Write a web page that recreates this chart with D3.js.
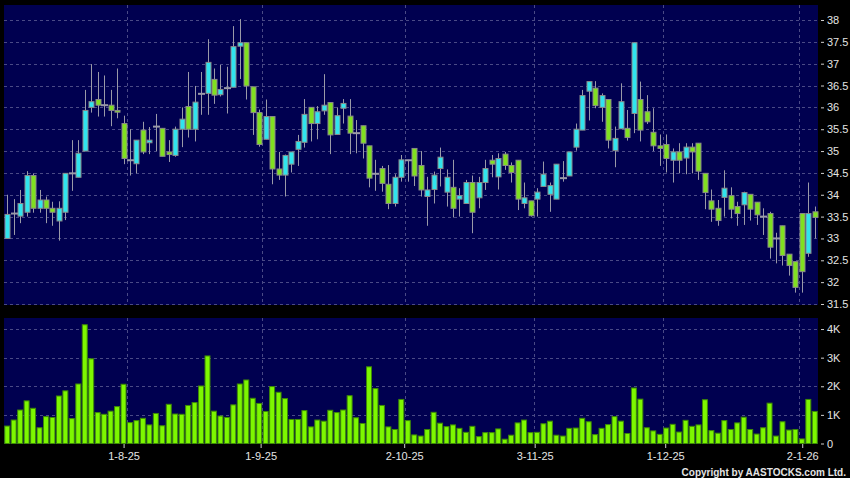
<!DOCTYPE html>
<html><head><meta charset="utf-8">
<script src="https://cdn.jsdelivr.net/npm/d3@7"></script>
<style>html,body{margin:0;padding:0;background:#000;} svg{display:block}</style>
</head><body><svg id="c" width="850" height="478"></svg>
<script>
// ---- data ----
const opens = [33.00,33.57,33.51,33.60,34.44,33.69,33.88,33.69,33.40,33.60,
34.49,34.40,35.00,36.00,36.18,36.05,36.05,35.93,35.63,34.79,
34.71,35.48,35.19,35.56,35.52,34.98,34.90,35.50,36.02,35.50,
36.31,36.32,36.64,36.29,36.44,36.46,37.40,37.48,36.47,35.88,
35.27,35.79,34.59,34.45,34.70,35.04,35.20,36.00,35.63,35.92,
36.11,35.38,35.98,35.80,35.41,35.58,35.12,34.48,34.60,34.24,
33.80,34.40,34.79,35.06,34.67,33.96,34.12,34.60,34.06,34.17,
33.90,33.80,34.28,33.93,34.28,34.79,34.41,34.93,34.67,34.79,
33.80,33.86,33.90,34.19,34.01,33.90,34.38,34.43,35.09,35.48,
36.37,36.44,36.00,36.18,35.01,35.51,35.52,35.86,36.18,35.90,
35.43,35.12,35.15,34.79,34.98,34.84,35.09,35.18,34.49,33.86,
33.69,33.94,33.98,33.73,33.77,34.01,33.83,33.50,33.57,33.00,
33.29,32.64,32.47,33.57,32.66,33.61];
const highs = [34.00,33.90,34.11,34.54,34.49,34.11,33.96,33.84,33.85,34.49,
35.25,35.25,36.40,36.99,36.81,36.73,36.40,36.89,35.81,35.50,
35.25,35.67,35.55,35.85,35.52,35.25,35.56,36.00,36.81,36.49,
36.81,37.56,36.89,36.97,36.93,37.86,38.02,37.48,36.47,35.95,
36.18,35.79,34.98,34.92,34.98,35.37,36.19,36.00,36.03,36.76,
36.11,36.00,36.19,36.19,35.71,35.58,35.12,34.80,34.66,34.68,
34.47,34.91,34.80,35.06,35.00,34.41,34.53,35.08,34.58,34.80,
34.15,34.34,34.44,34.41,34.80,34.91,34.95,34.98,34.74,34.79,
34.28,33.86,34.15,34.76,34.28,34.70,34.77,34.98,35.63,36.40,
36.59,36.60,36.32,36.18,35.56,36.55,35.94,37.48,36.59,36.28,
35.98,35.38,35.38,35.06,35.18,35.18,35.18,35.18,34.49,34.12,
33.88,34.56,34.17,33.84,34.07,34.01,33.83,33.69,33.61,33.13,
33.29,32.64,32.47,33.57,34.28,33.73];
const lows = [33.00,33.08,33.35,33.50,33.59,33.59,33.35,33.29,32.95,33.42,
34.09,34.40,35.00,35.88,35.79,35.79,35.57,35.75,34.70,34.44,
34.49,34.93,34.93,35.00,34.88,34.75,34.87,35.09,35.31,35.22,
35.83,35.83,36.08,36.25,35.86,36.46,36.65,36.18,35.37,35.10,
35.27,34.24,34.34,33.96,34.51,34.66,35.08,35.22,35.27,35.83,
34.93,35.38,35.63,34.93,34.95,34.83,34.17,34.09,34.07,33.67,
33.73,34.30,34.30,34.20,33.96,33.29,33.80,34.19,33.73,33.48,
33.50,33.80,33.12,33.69,34.11,34.40,34.12,34.57,34.28,33.65,
33.69,33.50,33.50,34.19,33.61,33.90,34.30,34.43,35.01,35.48,
35.70,35.98,35.67,35.06,34.63,35.51,35.24,35.41,35.22,35.62,
35.00,34.66,34.51,34.28,34.49,34.47,34.49,34.34,33.67,33.38,
33.29,33.50,33.46,33.29,33.31,33.41,33.31,33.08,32.54,32.43,
32.38,32.15,31.76,31.76,32.58,33.00];
const closes = [33.55,33.57,33.80,34.44,33.69,33.88,33.69,33.60,33.69,34.49,
34.49,34.95,35.93,36.13,36.05,36.05,35.93,35.89,34.83,34.79,
35.25,34.98,35.25,35.56,34.88,34.92,35.50,35.73,35.50,36.12,
36.31,37.03,36.28,36.41,36.44,37.39,37.48,36.49,35.88,35.15,
35.79,34.59,34.45,34.90,34.98,35.22,35.84,35.63,35.90,36.05,
35.37,35.81,36.09,35.41,35.41,35.18,34.38,34.48,34.26,33.80,
34.40,34.80,34.79,34.43,34.11,34.11,34.45,34.86,34.40,33.69,
33.98,34.28,33.60,34.28,34.60,34.70,34.83,34.67,34.51,33.90,
33.93,33.52,34.06,34.47,34.21,34.70,34.38,34.98,35.50,36.27,
36.59,36.04,36.27,35.25,35.29,36.13,35.31,37.48,35.48,35.67,
35.12,35.06,34.83,34.98,34.79,35.09,34.98,34.54,34.05,33.67,
33.41,34.15,33.67,33.57,34.05,33.67,33.54,33.50,32.80,33.00,
32.61,32.38,31.88,32.24,33.57,33.48];
const volumesK = [0.61,0.82,1.17,1.49,1.23,0.55,0.94,0.91,1.66,1.84,
0.87,2.08,4.15,2.96,1.08,1.02,1.13,1.29,2.07,0.73,
0.80,0.88,0.65,1.05,0.62,1.37,1.03,1.02,1.33,1.43,
2.01,3.06,1.13,0.96,0.91,1.35,2.08,2.22,1.58,1.40,
1.12,1.99,1.79,1.57,0.84,0.84,1.15,0.58,0.82,0.78,
1.16,1.08,1.17,1.67,0.90,0.70,2.68,1.92,1.33,0.58,
0.49,1.54,0.80,0.30,0.26,0.49,1.09,0.71,0.59,0.65,
0.53,0.39,0.60,0.24,0.38,0.38,0.51,0.15,0.29,0.72,
0.82,0.38,0.39,0.69,0.78,0.29,0.26,0.53,0.54,0.88,
0.76,0.31,0.53,0.66,0.94,0.78,0.35,1.94,1.55,0.55,
0.44,0.32,0.54,0.67,0.40,0.81,0.60,0.65,1.53,0.45,
0.36,0.80,0.49,0.72,0.92,0.49,0.33,0.55,1.41,0.26,
0.76,0.47,0.49,0.16,1.54,1.12];
const xTickIndex = [18, 39, 61, 81, 101, 122];
const xTickLabels = ["1-8-25", "1-9-25", "2-10-25", "3-11-25", "1-12-25", "2-1-26"];
const priceTicks = [31.5,32,32.5,33,33.5,34,34.5,35,35.5,36,36.5,37,37.5,38];
const volTicks = [0,1,2,3,4];

// ---- layout ----
const n = opens.length;
const plotL = 4, plotR = 818;
const pTop = 5, pBot = 305, vTop = 318, vBot = 443.5;
const navy = "#000050", grid = "#4a4a86";
const font = "'Liberation Sans', Arial, sans-serif";

const svg = d3.select("#c");
svg.append("rect").attr("width", 850).attr("height", 478).attr("fill", "#000");
svg.append("rect").attr("x", plotL).attr("y", pTop).attr("width", plotR - plotL).attr("height", pBot - pTop).attr("fill", navy);
svg.append("rect").attr("x", plotL).attr("y", vTop).attr("width", plotR - plotL).attr("height", vBot - vTop + 0.5).attr("fill", navy);

const x = d3.scaleBand().domain(d3.range(n)).range([plotL, plotR]).padding(0);
const bw = x.bandwidth();
const xb = d3.scaleLinear().domain([0, n]).range([plotL, plotR]);          // band boundaries (grid)
const xt = d3.scaleLinear().domain([0, n]).range([-0.4, 821.8]);           // date axis ticks
const y = d3.scaleLinear().domain([31.477, 38.343]).range([pBot, pTop]);
const yv = d3.scaleLinear().domain([0, 4.386]).range([vBot, vTop]);

// grids
const g = svg.append("g").attr("stroke", grid).attr("stroke-dasharray", "3,3").attr("stroke-width", 1);
g.selectAll(".hp").data(priceTicks).join("line")
  .attr("x1", plotL).attr("x2", plotR)
  .attr("y1", d => Math.round(y(d)) + 0.5).attr("y2", d => Math.round(y(d)) + 0.5);
g.selectAll(".hv").data(volTicks.slice(1)).join("line").attr("class","hv")
  .attr("x1", plotL).attr("x2", plotR)
  .attr("y1", d => Math.round(yv(d)) + 0.5).attr("y2", d => Math.round(yv(d)) + 0.5);
xTickIndex.forEach(i => {
  const gx = Math.round(xb(i + 1)) + 0.5;
  g.append("line").attr("x1", gx).attr("x2", gx).attr("y1", pTop).attr("y2", pBot);
  g.append("line").attr("x1", gx).attr("x2", gx).attr("y1", vTop).attr("y2", vBot);
});

// candles
const idx = d3.range(n);
const cx = i => Math.round(x(i) + bw / 2) + 0.5;
const cg = svg.append("g");
cg.selectAll(".wick").data(idx).join("line")
  .attr("x1", cx).attr("x2", cx)
  .attr("y1", i => y(highs[i])).attr("y2", i => y(lows[i]))
  .attr("stroke", "#9a9aa8").attr("stroke-width", 1);
const bodyW = 5;
cg.selectAll(".body").data(idx.filter(i => opens[i] !== closes[i])).join("rect")
  .attr("x", i => cx(i) - bodyW / 2)
  .attr("y", i => y(Math.max(opens[i], closes[i])))
  .attr("width", bodyW)
  .attr("height", i => Math.max(1.5, Math.abs(y(opens[i]) - y(closes[i]))))
  .attr("fill", i => closes[i] > opens[i] ? "#30e4ee" : "#80e020")
  .attr("stroke", "#8a8a8a").attr("stroke-width", 1);
cg.selectAll(".doji").data(idx.filter(i => opens[i] === closes[i])).join("line")
  .attr("x1", i => cx(i) - 3.5).attr("x2", i => cx(i) + 3.5)
  .attr("y1", i => y(closes[i])).attr("y2", i => y(closes[i]))
  .attr("stroke", "#9a9aa8").attr("stroke-width", 2);

// volume
svg.append("g").selectAll("rect").data(idx).join("rect")
  .attr("x", i => x(i) + 0.75).attr("width", bw - 1.5)
  .attr("y", i => yv(volumesK[i])).attr("height", i => vBot - yv(volumesK[i]))
  .attr("fill", "#7df700").attr("stroke", "#3e8a06").attr("stroke-width", 1);

// axes
function styleAxis(sel) {
  sel.select(".domain").remove();
  sel.selectAll(".tick line").attr("stroke", "#cfcfcf");
  sel.selectAll(".tick text").attr("fill", "#e4e4e4").style("font-family", font).style("font-size", "11px");
}
svg.append("g").attr("transform", "translate(821,0)")
  .call(d3.axisRight(y).tickValues(priceTicks).tickSize(3).tickPadding(3).tickFormat(d => String(+d.toFixed(1))))
  .call(styleAxis);
svg.append("g").attr("transform", "translate(821,0)")
  .call(d3.axisRight(yv).tickValues(volTicks).tickSize(3).tickPadding(3).tickFormat(d => d === 0 ? "0" : d + "K"))
  .call(styleAxis);
svg.append("g").attr("transform", "translate(0,444)")
  .call(d3.axisBottom(xt).tickValues(xTickIndex.map(i => i + 1)).tickSize(4).tickPadding(4)
    .tickFormat((d, k) => xTickLabels[k]))
  .call(styleAxis);

svg.append("text").attr("x", 846).attr("y", 476).attr("text-anchor", "end")
  .attr("fill", "#e4e4e4").style("font-family", font).style("font-size", "10px").style("font-weight", "bold")
  .text("Copyright by AASTOCKS.com Ltd.");
</script></body></html>
